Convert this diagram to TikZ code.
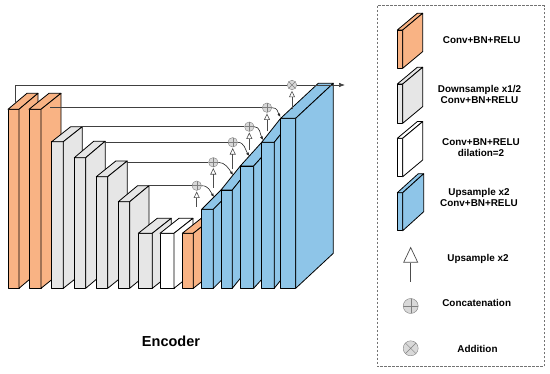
\documentclass[tikz,border=0pt]{standalone}
\usepackage{fontspec}
\setmainfont{Liberation Sans}
\usepackage{tikz}
\usetikzlibrary{arrows.meta,positioning,calc}
\definecolor{unorange}{HTML}{F9B384}
\definecolor{unblue}{HTML}{8EC5E8}
\definecolor{ungray}{HTML}{E6E6E6}
\definecolor{unnode}{HTML}{D9D9D9}
\tikzset{
  unedge/.style={draw=black, line width=0.8pt, line join=round},
  unline/.style={draw=black!75, line width=0.6pt},
  unup/.style={-{Triangle[open,length=6.5pt,width=6pt]}, draw=black!70,
    line width=0.6pt, shorten >=0.8pt},
  unuplegend/.style={-{Triangle[open,length=16pt,width=15pt]}, draw=black!70,
    line width=0.7pt},
  uncurve/.style={-{Latex[length=3.5pt,width=3pt]}, draw=black!85, line width=0.6pt},
  unplus/.style={circle, draw=black!50, fill=unnode, minimum size=9.5pt, inner sep=0pt,
    path picture={\draw[black!50] (path picture bounding box.north) -- (path picture bounding box.south)
      (path picture bounding box.west) -- (path picture bounding box.east);}},
  untimes/.style={circle, draw=black!50, fill=unnode, minimum size=9.5pt, inner sep=0pt,
    path picture={\draw[black!50] (path picture bounding box.north west) -- (path picture bounding box.south east)
      (path picture bounding box.north east) -- (path picture bounding box.south west);}},
  unlabel/.style={font=\fontsize{9.9}{11.5}\selectfont\bfseries, align=center, text=black}
}
\newcommand{\unblock}[7]{%
  \draw[unedge, fill=#7] (#1,#3) rectangle (#1+#2,#4);
  \draw[unedge, fill=#7] (#1,#3) -- ++(#5,#6) -- ++(#2,0) -- (#1+#2,#3) -- cycle;
  \draw[unedge, fill=#7] (#1+#2,#3) -- ++(#5,#6) -- ++(0,#4-#3) -- (#1+#2,#4) -- cycle;
}

\begin{document}
\begin{tikzpicture}[x=1pt, y=-1pt]
  \useasboundingbox (0,0) rectangle (550,374);
  \unblock{8}{11}{109.3}{288.3}{19}{-16}{unorange}
  \unblock{29}{12}{109.3}{288.3}{20}{-16}{unorange}
  \unblock{51.7}{11.6}{141.7}{288.3}{19}{-15}{ungray}
  \unblock{74.3}{11.4}{157.7}{288.3}{19.5}{-16.5}{ungray}
  \unblock{96.3}{11.4}{176.7}{288.3}{19.5}{-15.7}{ungray}
  \unblock{118.3}{11.4}{201.7}{288.3}{19.3}{-16}{ungray}
  \unblock{138.3}{14}{233.3}{288.3}{19}{-15}{ungray}
  \unblock{160}{14}{233.3}{288.3}{19}{-15}{white}
  \unblock{182.3}{11}{233.3}{288.3}{19}{-15}{unorange}
  \unblock{201.7}{11.6}{209.3}{288.3}{19.3}{-19.3}{unblue}
  \unblock{221}{11.3}{190}{288.3}{19.3}{-24}{unblue}
  \unblock{240.3}{13.4}{166}{288.3}{21.4}{-23.7}{unblue}
  \unblock{261.7}{12.6}{142.3}{288.3}{19}{-24}{unblue}
  \unblock{280.7}{15}{118.3}{288.3}{37.6}{-35}{unblue}

  \coordinate (s1) at (15.3,103.5);
  \coordinate (s2) at (50,107.7);
  \coordinate (s3) at (81.7,126.7);
  \coordinate (s4) at (105.3,142.3);
  \coordinate (s5) at (127.3,162.3);
  \coordinate (s6) at (149,185.7);
  \coordinate (out) at (345,85);

  \node[unplus] (c1) at (196.7,185.7) {};
  \node[unplus] (c2) at (213.3,162.3) {};
  \node[unplus] (c3) at (232.7,142.3) {};
  \node[unplus] (c4) at (249.3,126.7) {};
  \node[unplus] (c5) at (267,107.7) {};
  \node[untimes] (add) at (292,85) {};

  \draw[unline] (s1) |- (add);
  \draw[unline, -{Latex[length=6pt,width=4.5pt]}] (add) -- (out);
  \draw[unline] (s2) -- (c5);
  \draw[unline] (s3) -- (c4);
  \draw[unline] (s4) -- (c3);
  \draw[unline] (s5) -- (c2);
  \draw[unline] (s6) -- (c1);

  \coordinate (u1) at (196.7,207);
  \coordinate (u2) at (213.3,188);
  \coordinate (u3) at (232.7,169.5);
  \coordinate (u4) at (249.3,150);
  \coordinate (u5) at (267,131.5);
  \coordinate (u6) at (292,109.5);
  \draw[unup] (u1) -- (c1);
  \draw[unup] (u2) -- (c2);
  \draw[unup] (u3) -- (c3);
  \draw[unup] (u4) -- (c4);
  \draw[unup] (u5) -- (c5);
  \draw[unup] (u6) -- (add);

  \coordinate (t1) at (214,197);
  \coordinate (t2) at (233,175);
  \coordinate (t3) at (249.3,156);
  \coordinate (t4) at (263,140);
  \coordinate (t5) at (280.5,117);
  \draw[uncurve] (c1.east) .. controls +(7,0) and +(-4,-6) .. (t1);
  \draw[uncurve] (c2.east) .. controls +(7,0) and +(-4,-6) .. (t2);
  \draw[uncurve] (c3.east) .. controls +(7,0) and +(-4,-6) .. (t3);
  \draw[uncurve] (c4.east) .. controls +(6,0) and +(-3,-6) .. (t4);
  \draw[uncurve] (c5.east) .. controls +(6,0) and +(-3,-5) .. (t5);

  \node[font=\fontsize{14.5}{17}\selectfont\bfseries] (enc) at (171,341.7) {Encoder};

  \draw[black!55, dash pattern=on 2.5pt off 1.5pt, line width=0.6pt] (377.3,5.7) rectangle (544,366.7);
  \unblock{397.3}{5.4}{30}{68.3}{20}{-16.7}{unorange}
  \unblock{397.3}{5.4}{84}{123.3}{20}{-16.7}{ungray}
  \unblock{397.3}{5.4}{138.3}{176.7}{20}{-16.7}{white}
  \unblock{397.3}{5.4}{192.7}{230.7}{21}{-19}{unblue}
  \node[unlabel] (lgconv) at (481.7,40) {Conv+BN+RELU};
  \node[unlabel] (lgdown) at (479.5,94.7) {Downsample x1/2\\Conv+BN+RELU};
  \node[unlabel] (lgdil) at (481,147.5) {Conv+BN+RELU\\dilation=2};
  \node[unlabel] (lgupc) at (479,197.5) {Upsample x2\\Conv+BN+RELU};

  \coordinate (lgtail) at (410.7,281.7);
  \coordinate (lghead) at (410.7,246.7);
  \draw[unuplegend] (lgtail) -- (lghead);
  \node[unplus, minimum size=15pt] (lgplus) at (410.7,306) {};
  \node[untimes, minimum size=15pt] (lgtimes) at (410.7,348.3) {};
  \node[unlabel] (lgup) at (478,259.3) {Upsample x2};
  \node[unlabel] (lgcat) at (476.7,303.3) {Concatenation};
  \node[unlabel] (lgadd) at (477.5,348.7) {Addition};
\end{tikzpicture}
\end{document}
